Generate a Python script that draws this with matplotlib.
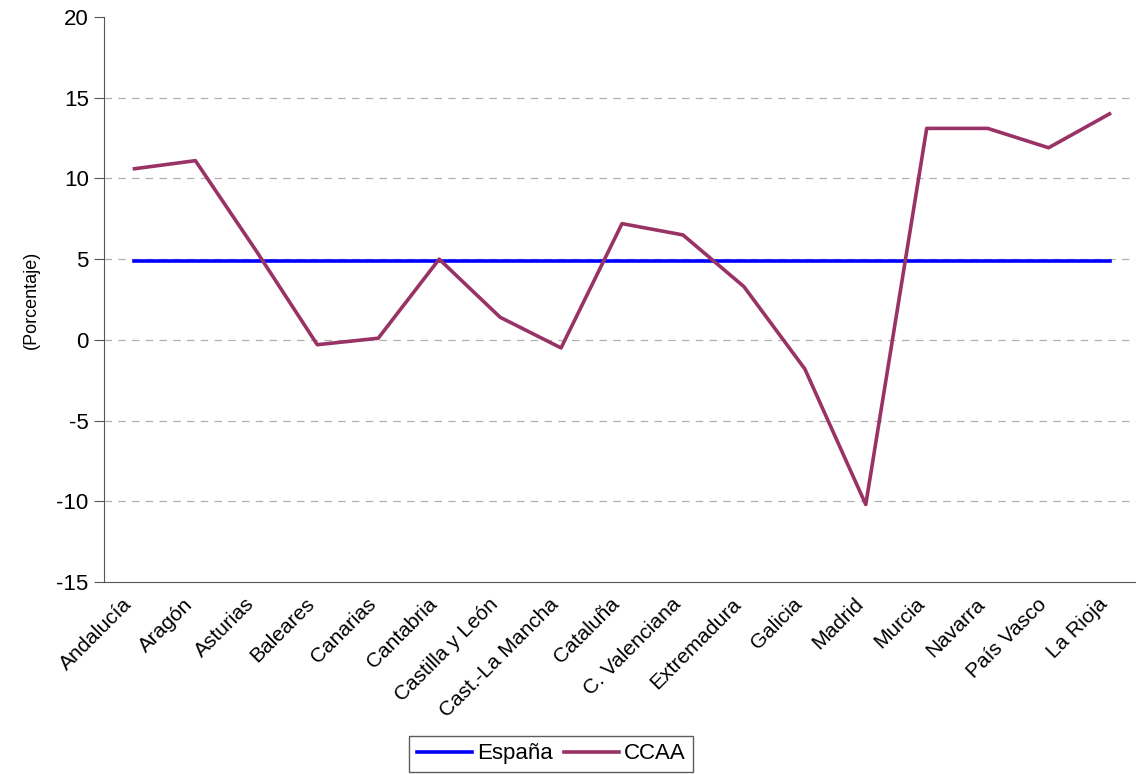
import matplotlib.pyplot as plt
import matplotlib.transforms as mtransforms
import numpy as np

plt.rcParams['font.family'] = ['Liberation Sans', 'DejaVu Sans']
plt.rcParams['axes.unicode_minus'] = False

# datos
regiones = ['Andalucía', 'Aragón', 'Asturias', 'Baleares', 'Canarias', 'Cantabria',
            'Castilla y León', 'Cast.-La Mancha', 'Cataluña', 'C. Valenciana',
            'Extremadura', 'Galicia', 'Madrid', 'Murcia', 'Navarra', 'País Vasco',
            'La Rioja']
ccaa = [10.6, 11.1, 5.5, -0.3, 0.1, 5.0, 1.4, -0.5, 7.2, 6.5,
        3.3, -1.8, -10.2, 13.1, 13.1, 11.9, 14.0]
espana = [4.9] * len(regiones)

fig = plt.figure(figsize=(11.36, 7.74), dpi=100)
ax = fig.add_axes([104/1136, 1-582/774, 1036/1136, (582-17)/774])

x = np.arange(len(regiones))
ax.plot(x, espana, color='#0000FF', lw=2.6, label='España', zorder=3)
ax.plot(x, ccaa, color='#993366', lw=2.6, label='CCAA', zorder=4)

ax.set_xlim(-0.5, len(regiones) - 0.5)
ax.set_ylim(-15, 20)
ax.set_yticks(np.arange(-15, 21, 5))
ax.set_xticks(x)
ax.set_xticklabels(regiones, rotation=45, ha='right', rotation_mode='anchor', fontsize=15)
ax.tick_params(axis='x', length=0, pad=9)
ax.tick_params(axis='y', labelsize=16, length=7, color='#555555', direction='out', pad=4)
# mover etiquetas un poco a la izquierda
desplaz = mtransforms.ScaledTranslation(-12/100, 0, fig.dpi_scale_trans)
for lab in ax.get_xticklabels():
    lab.set_transform(lab.get_transform() + desplaz)

for v in [-10, -5, 0, 5, 10, 15]:
    ax.axhline(v, color='#b0b0b0', lw=0.9, ls=(0, (6, 5)), zorder=1)

for s in ['top', 'right']:
    ax.spines[s].set_visible(False)
ax.spines['left'].set_color('#555555')
ax.spines['bottom'].set_color('#555555')

ax.set_ylabel('(Porcentaje)', fontsize=13, labelpad=12)

leg = fig.legend(loc='lower center', bbox_to_anchor=(551/1136, -0.012), ncol=2,
                 fontsize=16, frameon=True, fancybox=False, handlelength=2.5,
                 handletextpad=0.2, columnspacing=0.5, borderpad=0.35)
leg.get_frame().set_edgecolor('#333333')
leg.get_frame().set_linewidth(1.0)

plt.savefig('out.png', dpi=100)
